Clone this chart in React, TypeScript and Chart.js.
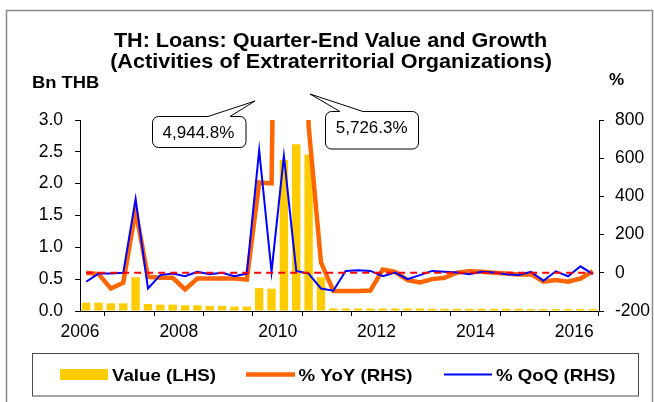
import { useEffect, useRef } from 'react';
import { Chart, registerables } from 'chart.js';

Chart.register(...registerables);

// ---------- data ----------
const years = [2006, 2007, 2008, 2009, 2010, 2011, 2012, 2013, 2014, 2015, 2016];
const quarterNames = ['Q1', 'Q2', 'Q3', 'Q4'];
const quarterCount = 42; // 2006Q1 .. 2016Q2
const quarterLabels = years
  .flatMap((y) => quarterNames.map((q) => `${y}${q}`))
  .slice(0, quarterCount);

// Value (LHS), Bn THB
const valueLHS = [
  0.13, 0.13, 0.12, 0.12,
  0.53, 0.11, 0.1, 0.1,
  0.09, 0.09, 0.08, 0.08,
  0.07, 0.07, 0.36, 0.35,
  2.37, 2.62, 2.46, 0.53,
  0.04, 0.04, 0.04, 0.04,
  0.04, 0.04, 0.04, 0.04,
  0.035, 0.035, 0.035, 0.035,
  0.035, 0.035, 0.035, 0.035,
  0.03, 0.03, 0.03, 0.03,
  0.03, 0.03,
];

// % YoY (RHS)
const yoyRHS = [
  0, -7, -82, -52,
  326, -21, -26, -26,
  -87, -30, -30, -30,
  -30, -35, 473, 468,
  4944.8, 5726.3, 770, 55,
  -95, -95, -95, -93,
  17, 5, -38, -51,
  -33, -26, 1, 8,
  5, 0, -4, -9,
  -7, -47, -38, -47,
  -30, 8,
];

// % QoQ (RHS)
const qoqRHS = [
  -47, -4, -4, 0,
  387, -82, -12, -4,
  -18, 5, -7, 0,
  -18, -4, 642, 5,
  612, 10, -4, -82,
  -94, 10, 13, 10,
  -18, 1, -33, -12,
  10, 5, 1, -7,
  5, 1, -7, -12,
  5, -42, 8, -18,
  34, -7,
];

const zeroRef = quarterLabels.map(() => 0);

const titleLines = [
  'TH: Loans: Quarter-End Value and Growth',
  '(Activities of Extraterritorial Organizations)',
];
const leftUnit = 'Bn THB';
const rightUnit = '%';
const legendLabels = ['Value (LHS)', '% YoY (RHS)', '% QoQ (RHS)'];
const calloutTexts = ['4,944.8%', '5,726.3%'];

const xTickMin = 2006;
const xTickMax = 2016.5;
const leftMin = 0;
const leftMax = 3;
const leftStep = 0.5;
const rightMin = -200;
const rightMax = 800;
const rightStep = 200;

// ---------- styles ----------
const FONT = 'Arial, "Liberation Sans", sans-serif';
const GOLD = '#FFCC00';
const ORANGE = '#FF6600';
const BLUE = '#0000FF';
const RED = '#FF0000';

// quarter label -> position on the time axis (mid-quarter)
const quarterPos = (label: string) => {
  const y = parseInt(label.slice(0, 4), 10);
  const q = parseInt(label.slice(5), 10);
  return y + (q - 1) / 4 + 0.125;
};

const toPoints = (vals: number[]) =>
  quarterLabels.map((l, i) => ({ x: quarterPos(l), y: vals[i] }));

function stretchedText(
  ctx: CanvasRenderingContext2D,
  s: string,
  x: number,
  y: number,
  font: string,
  align: CanvasTextAlign,
  sx: number
) {
  ctx.save();
  ctx.font = font;
  ctx.textAlign = align;
  ctx.textBaseline = 'alphabetic';
  ctx.fillStyle = '#000';
  ctx.translate(x, y);
  ctx.scale(sx, 1);
  ctx.fillText(s, 0, 0);
  ctx.restore();
}

function drawCallout(
  ctx: CanvasRenderingContext2D,
  x: number,
  y: number,
  w: number,
  h: number,
  baseL: number,
  baseR: number,
  tipX: number,
  tipY: number
) {
  const r = 6;
  ctx.save();
  ctx.beginPath();
  ctx.moveTo(x + r, y);
  ctx.lineTo(baseL, y);
  ctx.lineTo(tipX, tipY);
  ctx.lineTo(baseR, y);
  ctx.lineTo(x + w - r, y);
  ctx.arcTo(x + w, y, x + w, y + r, r);
  ctx.lineTo(x + w, y + h - r);
  ctx.arcTo(x + w, y + h, x + w - r, y + h, r);
  ctx.lineTo(x + r, y + h);
  ctx.arcTo(x, y + h, x, y + h - r, r);
  ctx.lineTo(x, y + r);
  ctx.arcTo(x, y, x + r, y, r);
  ctx.closePath();
  ctx.fillStyle = '#FFFFFF';
  ctx.fill();
  ctx.strokeStyle = '#000';
  ctx.lineWidth = 1;
  ctx.stroke();
  ctx.restore();
}

const decorPlugin = {
  id: 'decor',
  beforeDraw(chart: any) {
    const ctx: CanvasRenderingContext2D = chart.ctx;
    ctx.save();
    ctx.fillStyle = '#FFFFFF';
    ctx.fillRect(0, 0, chart.width, chart.height);
    // outer frame
    ctx.strokeStyle = '#8A8A8A';
    ctx.lineWidth = 1.5;
    ctx.strokeRect(6.5, 10.5, 646, 420);
    ctx.restore();
  },
  afterDraw(chart: any) {
    const ctx: CanvasRenderingContext2D = chart.ctx;
    // title
    stretchedText(ctx, titleLines[0], 330.5, 46.7, `bold 20px ${FONT}`, 'center', 1.08);
    stretchedText(ctx, titleLines[1], 331, 68.3, `bold 20px ${FONT}`, 'center', 1.08);
    // axis units
    stretchedText(ctx, leftUnit, 32, 87.7, `bold 17px ${FONT}`, 'left', 1.08);
    stretchedText(ctx, rightUnit, 616.5, 85, `bold 17px ${FONT}`, 'center', 1.0);

    // callouts
    drawCallout(ctx, 152.5, 116.5, 93.5, 31, 208, 230, 255, 101);
    stretchedText(ctx, calloutTexts[0], 198.5, 138.3, `16.5px ${FONT}`, 'center', 1.03);
    drawCallout(ctx, 325.5, 111.5, 93, 37.5, 340, 363, 310, 94);
    stretchedText(ctx, calloutTexts[1], 371.7, 132.7, `16.5px ${FONT}`, 'center', 1.03);

    // legend box
    ctx.save();
    ctx.strokeStyle = '#4A4A4A';
    ctx.lineWidth = 1;
    ctx.strokeRect(32.5, 353.5, 606, 42.5);
    // swatches
    ctx.fillStyle = GOLD;
    ctx.fillRect(60, 369, 48, 11);
    ctx.strokeStyle = ORANGE;
    ctx.lineWidth = 4.5;
    ctx.beginPath();
    ctx.moveTo(246, 374.5);
    ctx.lineTo(295, 374.5);
    ctx.stroke();
    ctx.strokeStyle = BLUE;
    ctx.lineWidth = 2;
    ctx.beginPath();
    ctx.moveTo(444, 374.5);
    ctx.lineTo(492, 374.5);
    ctx.stroke();
    ctx.restore();
    stretchedText(ctx, legendLabels[0], 112, 380.5, `bold 17px ${FONT}`, 'left', 1.1);
    stretchedText(ctx, legendLabels[1], 298.5, 380.5, `bold 17px ${FONT}`, 'left', 1.1);
    stretchedText(ctx, legendLabels[2], 496, 380.5, `bold 17px ${FONT}`, 'left', 1.1);
  },
};

export default function App() {
  const canvasRef = useRef<HTMLCanvasElement | null>(null);

  useEffect(() => {
    const canvas = canvasRef.current;
    if (!canvas) return;
    Chart.defaults.font.family = FONT;
    Chart.defaults.color = '#000';

    const tickFont = { family: FONT, size: 17.5 };

    const chart = new Chart(canvas, {
      type: 'line',
      data: {
        datasets: [
          {
            type: 'line',
            label: 'zero',
            data: toPoints(zeroRef),
            yAxisID: 'y1',
            borderColor: RED,
            borderWidth: 2,
            borderDash: [7, 5],
            pointRadius: 0,
            order: 0,
          },
          {
            type: 'line',
            label: legendLabels[2],
            data: toPoints(qoqRHS),
            yAxisID: 'y1',
            borderColor: BLUE,
            borderWidth: 2,
            pointRadius: 0,
            tension: 0,
            order: 1,
          },
          {
            type: 'line',
            label: legendLabels[1],
            data: toPoints(yoyRHS),
            yAxisID: 'y1',
            borderColor: ORANGE,
            borderWidth: 4.5,
            pointRadius: 0,
            tension: 0,
            order: 2,
          },
          {
            type: 'bar',
            label: legendLabels[0],
            data: toPoints(valueLHS),
            yAxisID: 'y',
            backgroundColor: GOLD,
            borderWidth: 0,
            barPercentage: 0.68,
            categoryPercentage: 1,
            order: 3,
          },
        ],
      } as any,
      options: {
        responsive: false,
        animation: false,
        devicePixelRatio: 1,
        layout: { padding: { left: 0, right: 0, top: 120, bottom: 61 } },
        plugins: {
          legend: { display: false },
          title: { display: false },
          tooltip: { enabled: false },
        },
        scales: {
          x: {
            type: 'linear',
            min: xTickMin,
            max: xTickMax,
            offset: false,
            grid: {
              display: true,
              drawOnChartArea: false,
              drawTicks: true,
              tickLength: 5,
              color: '#000',
            },
            border: { display: true, color: '#000', width: 1 },
            ticks: {
              stepSize: 1,
              autoSkip: false,
              includeBounds: false,
              maxRotation: 0,
              padding: 6,
              color: '#000',
              font: tickFont,
              callback: (v: any) => (Number(v) % 2 === 0 ? String(v) : ''),
            },
            afterFit: (s: any) => {
              s.height = 30;
            },
          },
          y: {
            type: 'linear',
            position: 'left',
            min: leftMin,
            max: leftMax,
            grid: { drawOnChartArea: false, tickLength: 5, color: '#000' },
            border: { display: true, color: '#000', width: 1 },
            ticks: {
              stepSize: leftStep,
              padding: 12,
              color: '#000',
              font: tickFont,
              callback: (v: any) => Number(v).toFixed(1),
            },
            afterFit: (s: any) => {
              s.width = 80;
            },
          },
          y1: {
            type: 'linear',
            position: 'right',
            min: rightMin,
            max: rightMax,
            grid: { drawOnChartArea: false, tickLength: 5, color: '#000' },
            border: { display: true, color: '#000', width: 1 },
            ticks: {
              stepSize: rightStep,
              padding: 11,
              color: '#000',
              font: tickFont,
              callback: (v: any) => String(v),
            },
            afterFit: (s: any) => {
              s.width = 55;
            },
          },
        },
      } as any,
      plugins: [decorPlugin],
    });

    return () => {
      chart.destroy();
    };
  }, []);

  return (
    <div
      style={{
        position: 'fixed',
        left: 0,
        top: 0,
        width: 654,
        height: 402,
        background: '#fff',
      }}
    >
      <canvas
        ref={canvasRef}
        width={654}
        height={402}
        style={{ display: 'block', width: 654, height: 402 }}
      />
    </div>
  );
}
